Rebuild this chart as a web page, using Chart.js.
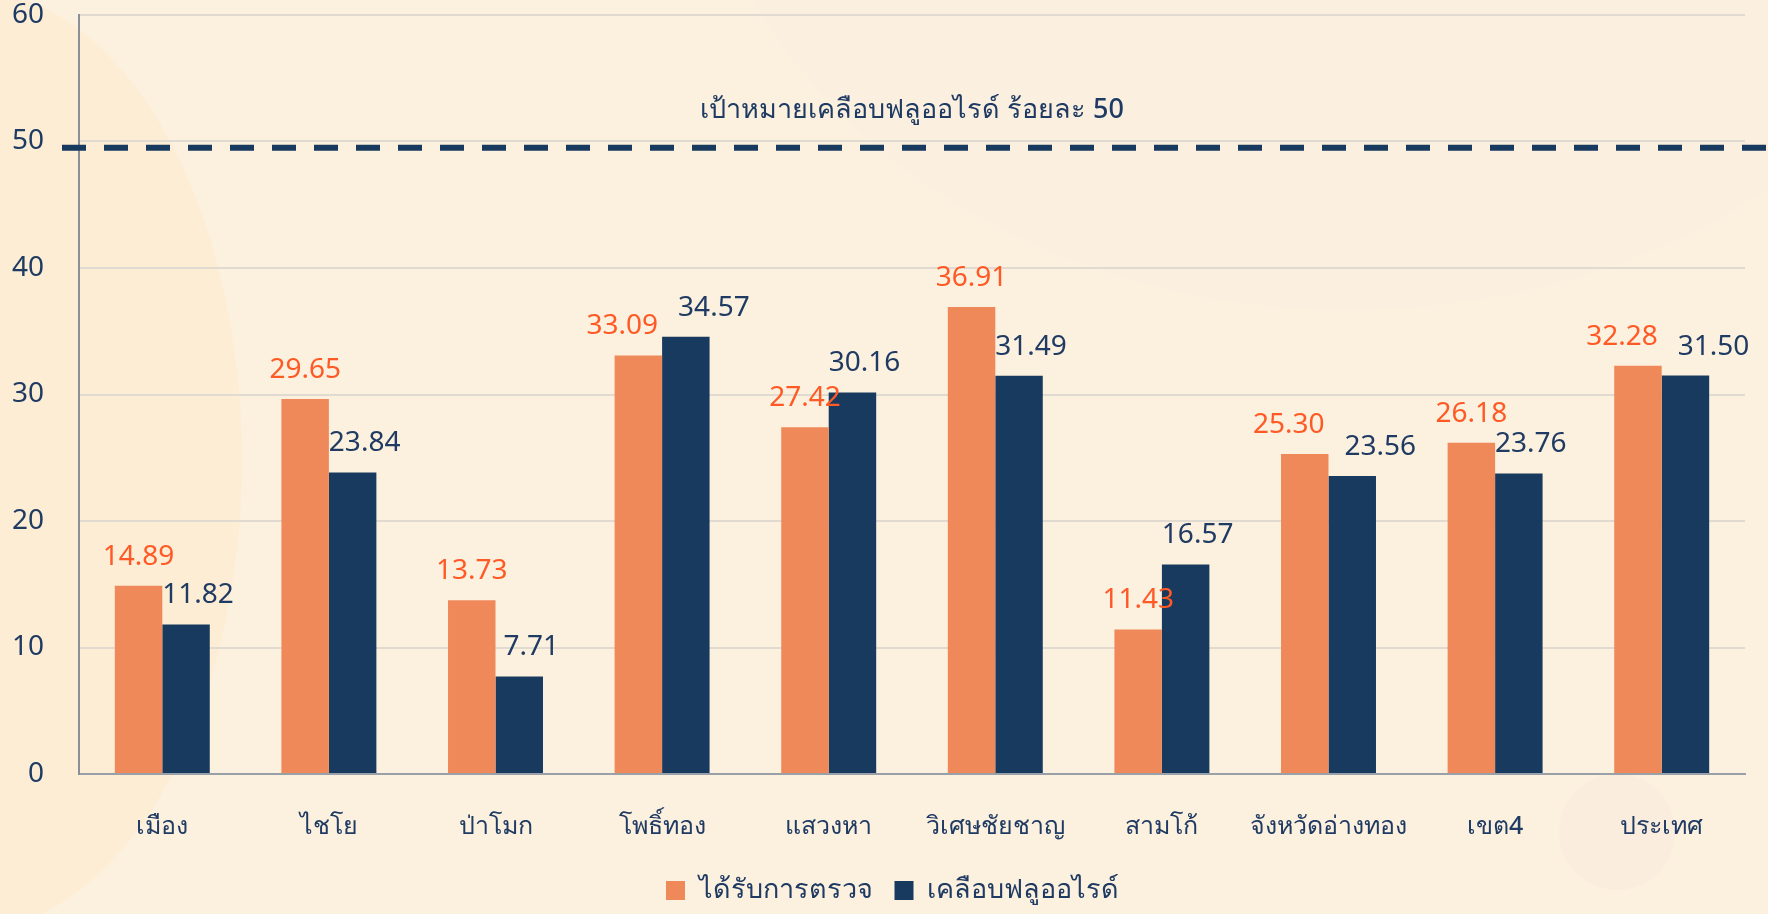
<!DOCTYPE html>
<html lang="th">
<head>
<meta charset="utf-8">
<title>Fluoride sealant coverage</title>
<script src="https://cdn.jsdelivr.net/npm/chart.js@4.4.1/dist/chart.umd.min.js"></script>
<style>
  html, body { margin: 0; padding: 0; background: #fcf0de; }
  #wrap { width: 1768px; height: 914px; }
</style>
</head>
<body>
<div id="wrap"><canvas id="fluorideChart" width="1768" height="914"></canvas></div>
<script>
const districts = ['เมือง', 'ไชโย', 'ป่าโมก', 'โพธิ์ทอง', 'แสวงหา', 'วิเศษชัยชาญ', 'สามโก้', 'จังหวัดอ่างทอง', 'เขต4', 'ประเทศ'];
const examined = [14.89, 29.65, 13.73, 33.09, 27.42, 36.91, 11.43, 25.30, 26.18, 32.28];
const sealed = [11.82, 23.84, 7.71, 34.57, 30.16, 31.49, 16.57, 23.56, 23.76, 31.50];
const seriesNames = ['ได้รับการตรวจ', 'เคลือบฟลูออไรด์'];
const yTicks = [0, 10, 20, 30, 40, 50, 60];
const targetValue = 49.5;
const targetLabel = 'เป้าหมายเคลือบฟลูออไรด์ ร้อยละ 50';

const NAVY = '#183a5e';
const ORANGE = '#f0895a';
const FONT = "'Noto Sans', 'DejaVu Sans', sans-serif";

// background blobs, drawn before everything else
const backdrop = {
  id: 'backdrop',
  beforeDraw(chart) {
    const { ctx, width, height } = chart;
    ctx.save();
    ctx.fillStyle = '#fcf0de';
    ctx.fillRect(0, 0, width, height);
    ctx.fillStyle = '#fbefe0';
    ctx.beginPath();
    ctx.ellipse(1350, -230, 660, 540, 0, 0, Math.PI * 2);
    ctx.fill();
    ctx.fillStyle = '#fcedd4';
    ctx.beginPath();
    ctx.ellipse(-30, 460, 272, 470, 0, 0, Math.PI * 2);
    ctx.fill();
    ctx.fillStyle = '#faeddd';
    ctx.beginPath();
    ctx.arc(1617, 832, 58, 0, Math.PI * 2);
    ctx.fill();
    ctx.restore();
  },
  afterLayout(chart) {
    // legend sits a little right of the canvas centre in the original
    chart.legend.left += 20;
    chart.legend.right += 20;
  }
};

// dashed target line + its caption
const targetLine = {
  id: 'targetLine',
  afterDatasetsDraw(chart) {
    const { ctx, chartArea, scales } = chart;
    const y = scales.y.getPixelForValue(targetValue);
    ctx.save();
    ctx.strokeStyle = '#173a5e';
    ctx.lineWidth = 6;
    ctx.setLineDash([24, 18]);
    ctx.beginPath();
    ctx.moveTo(chartArea.left - 17, y);
    ctx.lineTo(chart.width, y);
    ctx.stroke();
    ctx.setLineDash([]);
    ctx.fillStyle = '#1f3b63';
    ctx.font = '500 27px ' + FONT;
    ctx.textAlign = 'center';
    ctx.textBaseline = 'middle';
    ctx.fillText(targetLabel, (chartArea.left + chartArea.right) / 2, y - 38);
    ctx.restore();
  }
};

// value labels above bars, nudged apart when the pair would collide
const valueLabels = {
  id: 'valueLabels',
  afterDatasetsDraw(chart) {
    const { ctx } = chart;
    const metaO = chart.getDatasetMeta(0);
    const metaN = chart.getDatasetMeta(1);
    ctx.save();
    ctx.font = '28px ' + FONT;
    ctx.textAlign = 'center';
    ctx.textBaseline = 'alphabetic';
    districts.forEach((_, i) => {
      const bo = metaO.data[i];
      const bn = metaN.data[i];
      const tO = examined[i].toFixed(2);
      const tN = sealed[i].toFixed(2);
      const wO = ctx.measureText(tO).width;
      const wN = ctx.measureText(tN).width;
      let xO = bo.x;
      let xN = bn.x + 12;
      const yO = bo.y - 21;
      const yN = bn.y - 21;
      if (Math.abs(yO - yN) < 28) {
        const need = (wO + wN) / 2 + 20;
        const short = need - (xN - xO);
        if (short > 0) {
          xO -= short / 2;
          xN += short / 2;
        }
      }
      ctx.fillStyle = '#ff5a26';
      ctx.fillText(tO, xO, yO);
      ctx.fillStyle = '#1f3b63';
      ctx.fillText(tN, xN, yN);
    });
    ctx.restore();
  }
};

const PLOT_LEFT = 79;
const PLOT_BOTTOM = 774;

new Chart(document.getElementById('fluorideChart'), {
  type: 'bar',
  data: {
    labels: districts,
    datasets: [
      { label: seriesNames[0], data: examined, backgroundColor: ORANGE },
      { label: seriesNames[1], data: sealed, backgroundColor: NAVY }
    ]
  },
  options: {
    responsive: false,
    animation: false,
    layout: { padding: { top: 15, right: 23, bottom: 0, left: 0 } },
    categoryPercentage: 0.57,
    barPercentage: 1.0,
    plugins: {
      legend: {
        position: 'bottom',
        labels: {
          color: '#1f3b63',
          font: { family: FONT, size: 27, weight: '500' },
          boxWidth: 19,
          boxHeight: 19,
          padding: 22
        }
      },
      tooltip: { enabled: false }
    },
    scales: {
      x: {
        grid: { display: false, drawTicks: false },
        border: { color: '#9aa0a8', width: 2 },
        ticks: {
          color: '#1f3b63',
          font: { family: FONT, size: 25, weight: '500' },
          padding: 38,
          maxRotation: 0,
          minRotation: 0,
          autoSkip: false
        },
        afterFit(scale) {
          scale.height = scale.chart.height - PLOT_BOTTOM - scale.chart.legend.height;
        }
      },
      y: {
        min: 0,
        max: 60,
        afterBuildTicks(scale) {
          scale.ticks = yTicks.map(v => ({ value: v }));
        },
        grid: { color: '#e0dad1', lineWidth: 2, drawTicks: false },
        border: { color: '#8a8f99', width: 2 },
        ticks: { color: '#1f3b63', font: { family: FONT, size: 28 }, padding: 35 },
        afterFit(scale) {
          scale.width = PLOT_LEFT;
          scale.paddingTop = 0;
          scale.paddingBottom = 0;
        }
      }
    }
  },
  plugins: [backdrop, targetLine, valueLabels]
});
</script>
</body>
</html>
